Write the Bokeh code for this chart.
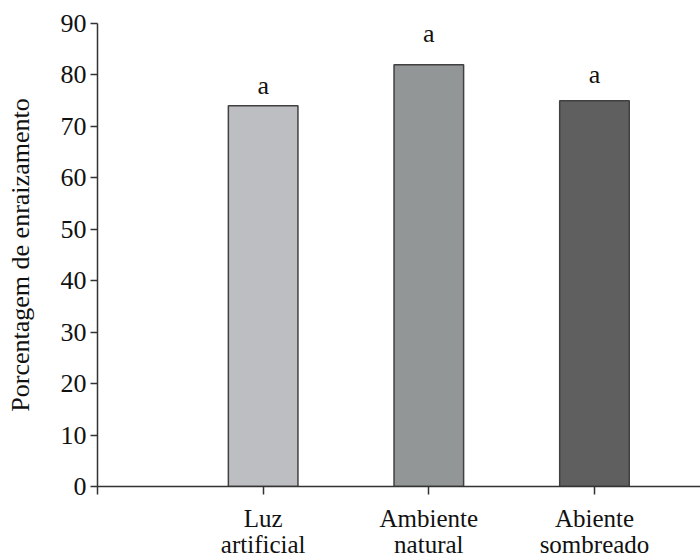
from bokeh.plotting import figure
from bokeh.models import ColumnDataSource, FixedTicker, Range1d, LinearAxis
from bokeh.core.properties import value
from bokeh.embed import file_html
from bokeh.resources import INLINE

categories = ["Luz\nartificial", "Ambiente\nnatural", "Abiente\nsombreado"]
positions = [1, 2, 3]
percent = [74, 82, 75]
letters = ["a", "a", "a"]
letter_y = [78, 88, 80]
colors = ["#bdbec2", "#939696", "#5f5f5f"]
y_ticks = [0, 10, 20, 30, 40, 50, 60, 70, 80, 90]

FONT = "Liberation Serif"
TICK_FONT = "Times New Roman"
FS = "26px"
XFS = "25px"
TXT = "#111111"
AX = "#333333"

src = ColumnDataSource(dict(x=positions, top=percent, color=colors,
                            lab=letters, ly=letter_y))

p = figure(width=700, height=560, output_backend="svg", toolbar_location=None,
           x_range=Range1d(0, 3.64), y_range=Range1d(0, 90),
           x_axis_location=None,
           min_border_left=97, min_border_top=23, min_border_right=0,
           min_border_bottom=74)
p.outline_line_color = None
p.xgrid.visible = False
p.ygrid.visible = False

p.vbar(x="x", top="top", width=0.42, bottom=0, source=src,
       fill_color="color", line_color="#404040", line_width=1.5)

p.text(x="x", y="ly", text="lab", source=src, text_align="center",
       text_baseline="alphabetic", text_font=value(FONT),
       text_font_size=FS, text_color=TXT)

first_line = [c.split("\n")[0] for c in categories]
second_line = [c.split("\n")[1] for c in categories]

ax1 = LinearAxis(ticker=FixedTicker(ticks=[0] + positions),
                 major_label_overrides={0: ""} | dict(zip(positions, first_line)),
                 minor_tick_line_color=None, major_tick_in=0, major_tick_out=8,
                 major_label_standoff=10, major_label_text_font=TICK_FONT,
                 major_label_text_font_size=XFS, major_label_text_color=TXT,
                 axis_line_color=AX, axis_line_width=1.5,
                 major_tick_line_color=AX, major_tick_line_width=1.5)
ax2 = LinearAxis(ticker=FixedTicker(ticks=[0] + positions),
                 major_label_overrides={0: ""} | dict(zip(positions, second_line)),
                 minor_tick_line_color=None, major_tick_line_color=None,
                 major_tick_in=0, major_tick_out=0, axis_line_color=None,
                 major_label_standoff=-4, major_label_text_font=TICK_FONT,
                 major_label_text_font_size=XFS, major_label_text_color=TXT)
p.add_layout(ax1, "below")
p.add_layout(ax2, "below")

p.yaxis.ticker = FixedTicker(ticks=y_ticks)
p.yaxis.minor_tick_line_color = None
p.yaxis.major_tick_in = 0
p.yaxis.major_tick_out = 7
p.yaxis.major_label_standoff = 4
p.yaxis.major_label_text_font = TICK_FONT
p.yaxis.major_label_text_font_size = FS
p.yaxis.major_label_text_color = TXT
p.yaxis.axis_line_color = AX
p.yaxis.axis_line_width = 1.5
p.yaxis.major_tick_line_color = AX
p.yaxis.major_tick_line_width = 1.5
p.yaxis.axis_label = "Porcentagem de enraizamento"
p.yaxis.axis_label_text_font = FONT
p.yaxis.axis_label_text_font_style = "normal"
p.yaxis.axis_label_text_font_size = FS
p.yaxis.axis_label_text_color = TXT
p.yaxis.axis_label_standoff = 23

open("out.html", "w").write(file_html(p, INLINE))
